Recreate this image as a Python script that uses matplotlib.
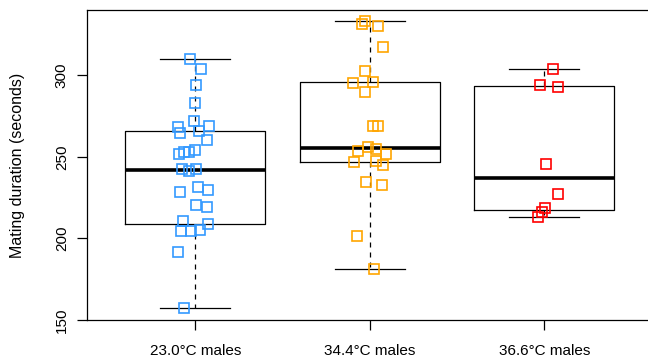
import matplotlib
matplotlib.use("Agg")
import matplotlib.pyplot as plt
import numpy as np

plt.rcParams['font.family'] = ['Liberation Sans', 'DejaVu Sans']

# Data
groups = ['23.0°C males', '34.4°C males', '36.6°C males']
colors = ['#3399FF', '#FFA500', '#FF0000']

dur_23 = [310, 304, 294, 283, 272, 268, 269, 264.5, 266, 260, 251.6, 252.7, 252.7, 254,
          242.6, 241.6, 242.6, 231.6, 228.5, 229.5, 220.7, 219.5, 210.6, 208.7, 204.4,
          204.4, 205.4, 191.5, 157.4]
jit_23 = [-0.031, 0.032, 0.002, 0.0, -0.006, -0.098, 0.078, -0.086, 0.019, 0.069, -0.092,
          -0.063, -0.037, 0.0, -0.075, -0.034, 0.006, 0.017, -0.088, 0.075, 0.003, 0.065,
          -0.071, 0.071, -0.079, -0.023, 0.029, -0.1, -0.063]

dur_34 = [333.3, 331.3, 330.2, 317.2, 302.9, 295, 296, 289.9, 268.8, 268.8, 255.8, 254.7,
          253.7, 251.7, 246.7, 247.7, 244.7, 234.7, 232.6, 201.3, 181.3]
jit_34 = [-0.025, -0.046, 0.046, 0.078, -0.025, -0.096, 0.019, -0.03, 0.021, 0.046, -0.008,
          0.036, -0.067, 0.095, -0.09, 0.038, 0.076, -0.02, 0.07, -0.075, 0.027]

dur_36 = [304, 294, 292.7, 245.7, 227.5, 218.7, 216.3, 213.4]
jit_36 = [0.050, -0.023, 0.08, 0.009, 0.078, 0.006, -0.011, -0.036]

# box summaries (whisker low, lower hinge, median, upper hinge, whisker high)
box_lo = [157.4, 181.3, 213.4]
box_q1 = [208.7, 246.7, 217.5]
box_med = [241.8, 255.7, 236.8]
box_q3 = [266.0, 295.8, 293.3]
box_hi = [310.0, 333.3, 304.0]

values = [dur_23, dur_34, dur_36]
jitters = [jit_23, jit_34, jit_36]

fig = plt.figure(figsize=(6.48, 3.62), dpi=100)
ax = fig.add_axes([87 / 648, 42 / 362, 565.5 / 648, 310 / 362])

stats = []
for i in range(3):
    stats.append(dict(whislo=box_lo[i], q1=box_q1[i], med=box_med[i],
                      q3=box_q3[i], whishi=box_hi[i], fliers=[]))

ax.bxp(stats, positions=[1, 2, 3], widths=0.8, showfliers=False,
       boxprops=dict(color='black', linewidth=0.9),
       medianprops=dict(color='black', linewidth=2.6, solid_capstyle='butt'),
       whiskerprops=dict(color='black', linewidth=0.9, linestyle=(0, (4, 4))),
       capprops=dict(color='black', linewidth=0.9),
       capwidths=0.4)

for i in range(3):
    x = np.array(jitters[i]) + i + 1
    ax.plot(x, values[i], linestyle='none', marker='s', markersize=6.5,
            markerfacecolor='none', markeredgecolor=colors[i], markeredgewidth=1.2,
            zorder=5)

ax.set_xlim(0.38, 3.62)
ax.set_ylim(149.96, 340.0)
ax.set_yticks([150, 200, 250, 300])
ax.set_xticks([1, 2, 3])
ax.set_xticklabels(groups)
ax.tick_params(axis='y', labelrotation=90, length=7, width=0.9, pad=6, labelsize=11)
ax.tick_params(axis='x', length=7, width=0.9, pad=10, labelsize=11)
for lab in ax.get_yticklabels():
    lab.set_va('center')

for sp in ax.spines.values():
    sp.set_linewidth(0.9)

fig.text(18 / 648, 1 - 165 / 362, 'Mating duration (seconds)', rotation=90,
         ha='center', va='center', fontsize=11.5)

fig.savefig('out.png', dpi=100)
